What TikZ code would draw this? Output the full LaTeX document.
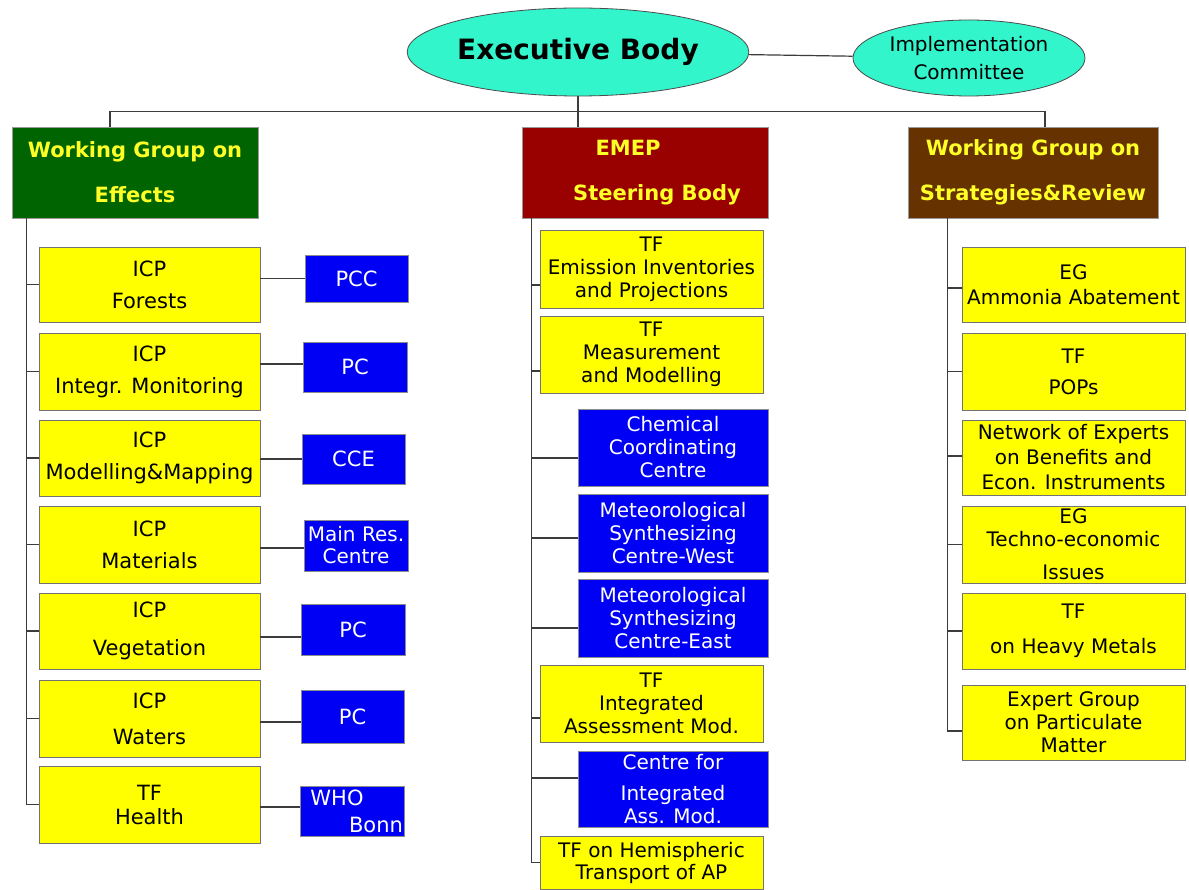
\documentclass[tikz,border=0pt]{standalone}
\usepackage{fontspec}
\setmainfont{DejaVu Sans}
\usetikzlibrary{shapes.geometric}
\definecolor{yfill}{RGB}{255,255,0}
\definecolor{bfill}{RGB}{0,0,245}
\definecolor{efill}{RGB}{51,245,204}
\definecolor{gfill}{RGB}{0,100,0}
\definecolor{rfill}{RGB}{153,0,0}
\definecolor{brfill}{RGB}{102,51,0}
\definecolor{htext}{RGB}{255,255,40}
\definecolor{linec}{RGB}{60,60,60}
\begin{document}
\begin{tikzpicture}[x=1pt,y=-1pt,
  sz/.style 2 args={minimum width=#1pt,minimum height=#2pt},
  yb/.style={draw=black!55,fill=yfill,line width=0.8pt,inner sep=0pt,align=center,text=black,font=\fontsize{21}{32}\selectfont},
  ym/.style={yb,font=\fontsize{20}{23}\selectfont},
  bb/.style={draw=black!45,fill=bfill,line width=0.8pt,inner sep=0pt,align=center,text=white,font=\fontsize{21}{24}\selectfont},
  bm/.style={bb,font=\fontsize{20}{23}\selectfont},
  hb/.style={draw=black!40,line width=0.8pt,inner sep=0pt,align=center,text=htext,font=\bfseries\fontsize{21}{45}\selectfont},
  ell/.style={ellipse,draw=black!70,fill=efill,line width=0.8pt,inner sep=0pt,align=center},
  conn/.style={draw=linec,line width=1.2pt}]
\useasboundingbox (0,0) rectangle (1189,890);
\fill[white] (0,0) rectangle (1189,890);

% top ellipses
\node[ell,minimum width=324pt,minimum height=88pt,font=\bfseries\fontsize{28}{30}\selectfont] (exec) at (578,52) {Executive Body};
\node[ell,minimum width=232pt,minimum height=76pt,font=\fontsize{20}{28}\selectfont] (impl) at (969,58) {Implementation\\Committee};

% headers
\node[hb,fill=gfill,sz={246}{91}] (weff) at (135,172.5) {Working Group on\\Effects};
\node[hb,fill=rfill,sz={246}{91}] (emep) at (645,172.5) {EMEP\hspace*{34pt}\\\hspace*{24pt}Steering Body};
\node[hb,fill=brfill,sz={250}{91}] (wgsr) at (1033,172.5) {Working Group on\\Strategies\&Review};

\draw[conn] (exec) -- (impl);
\draw[conn] (exec.south) -- (exec.south |- emep.north);
\draw[conn] ([xshift=-25pt]weff.north) -- ++(0,-15) -| ([xshift=12pt]wgsr.north);

% left column
\node[yb,sz={221}{75}] (lf1) at (149.5,284.5) {ICP\\Forests};
\node[yb,sz={221}{77}] (lf2) at (149.5,371.5) {ICP\\Integr. Monitoring};
\node[yb,sz={221}{76}] (lf3) at (149.5,458) {ICP\\Modelling\&Mapping};
\node[yb,sz={221}{77}] (lf4) at (149.5,544.5) {ICP\\Materials};
\node[yb,sz={221}{76}] (lf5) at (149.5,631) {ICP\\[6pt]Vegetation};
\node[yb,sz={221}{77}] (lf6) at (149.5,718.5) {ICP\\[4pt]Waters};
\node[yb,sz={221}{77}] (lf7) at (149.5,804.5) {TF\\[-8pt]Health};

\node[bb,sz={103}{47}] (b1) at (356.5,278.5) {PCC};
\node[bb,sz={104}{50}] (b2) at (355,367) {PC};
\node[bb,sz={103}{50}] (b3) at (353.5,459) {CCE};
\node[bb,sz={104}{51},font=\fontsize{20}{22}\selectfont] (b4) at (356,545.5) {Main Res.\\Centre};
\node[bb,sz={104}{51}] (b5) at (353,629.5) {PC};
\node[bb,sz={103}{53}] (b6) at (352.5,716.5) {PC};
\node[bb,sz={104}{50},font=\fontsize{21}{27}\selectfont] (b7) at (352,811) {WHO\hspace*{30pt}\\\hspace*{48pt}Bonn};

\coordinate (lv) at ([xshift=15pt]weff.south west);
\draw[conn] (lv) |- (lf7.west);
\foreach \n in {lf1,lf2,lf3,lf4,lf5,lf6}{\draw[conn] (\n.west) -- (\n.west -| lv);}
\draw[conn] (b1.west -| lf1.east) -- (b1.west);
\draw[conn] ([yshift=3pt]b2.west -| lf2.east) -- ([yshift=3pt]b2.west);
\draw[conn] (b3.west -| lf3.east) -- (b3.west);
\draw[conn] ([yshift=-2.5pt]b4.west -| lf4.east) -- ([yshift=-2.5pt]b4.west);
\draw[conn] ([yshift=-7.5pt]b5.west -| lf5.east) -- ([yshift=-7.5pt]b5.west);
\draw[conn] ([yshift=-5.5pt]b6.west -| lf6.east) -- ([yshift=-5.5pt]b6.west);
\draw[conn] ([yshift=4pt]b7.west -| lf7.east) -- ([yshift=4pt]b7.west);

% middle column
\node[ym,sz={223}{78}] (m1) at (651.5,269) {TF\\Emission Inventories\\and Projections};
\node[ym,sz={223}{77}] (m2) at (651.5,354.5) {TF\\Measurement\\and Modelling};
\node[bm,sz={190}{77}] (m3) at (673,447.5) {Chemical\\Coordinating\\Centre};
\node[bm,sz={190}{78}] (m4) at (673,533) {Meteorological\\Synthesizing\\Centre-West};
\node[bm,sz={190}{78}] (m5) at (673,618) {Meteorological\\Synthesizing\\Centre-East};
\node[ym,sz={223}{77}] (m6) at (651.5,703.5) {TF\\Integrated\\Assessment Mod.};
\node[bm,sz={190}{76}] (m7) at (673,789) {Centre for\\[8pt]Integrated\\Ass. Mod.};
\node[ym,sz={223}{53},font=\fontsize{20}{22}\selectfont] (m8) at (651.5,862.5) {TF on Hemispheric\\Transport of AP};

\coordinate (mv) at ([xshift=10pt]emep.south west);
\draw[conn] (mv) |- (m8.west);
\draw[conn] ([yshift=-16pt]m1.west) -- ([yshift=-16pt]m1.west -| mv);
\draw[conn] ([yshift=-16.5pt]m2.west) -- ([yshift=-16.5pt]m2.west -| mv);
\draw[conn] ([yshift=-10.5pt]m3.west) -- ([yshift=-10.5pt]m3.west -| mv);
\draw[conn] ([yshift=-5pt]m4.west) -- ([yshift=-5pt]m4.west -| mv);
\draw[conn] ([yshift=-10pt]m5.west) -- ([yshift=-10pt]m5.west -| mv);
\draw[conn] ([yshift=-14.5pt]m6.west) -- ([yshift=-14.5pt]m6.west -| mv);
\draw[conn] ([yshift=11pt]m7.west) -- ([yshift=11pt]m7.west -| mv);

% right column
\node[ym,sz={223}{75},font=\fontsize{20}{25}\selectfont] (r1) at (1073.5,284.5) {EG\\Ammonia Abatement};
\node[ym,sz={223}{77},font=\fontsize{20}{31}\selectfont] (r2) at (1073.5,371.5) {TF\\POPs};
\node[ym,sz={223}{75},font=\fontsize{20}{25}\selectfont] (r3) at (1073.5,457.5) {Network of Experts\\on Benefits and\\Econ. Instruments};
\node[ym,sz={223}{77}] (r4) at (1073.5,544.5) {EG\\Techno-economic\\[10pt]Issues};
\node[ym,sz={223}{76}] (r5) at (1073.5,631) {TF\\[12pt]on Heavy Metals};
\node[ym,sz={223}{75}] (r6) at (1073.5,722.5) {Expert Group\\on Particulate\\Matter};

\coordinate (rv) at ([xshift=40pt]wgsr.south west);
\draw[conn] (rv) |- ([yshift=-8.5pt]r6.west);
\draw[conn] ([yshift=-3.5pt]r1.west) -- ([yshift=-3.5pt]r1.west -| rv);
\draw[conn] (r2.west) -- (r2.west -| rv);
\draw[conn] ([yshift=1.5pt]r3.west) -- ([yshift=1.5pt]r3.west -| rv);
\draw[conn] (r4.west) -- (r4.west -| rv);
\draw[conn] (r5.west) -- (r5.west -| rv);
\end{tikzpicture}
\end{document}
